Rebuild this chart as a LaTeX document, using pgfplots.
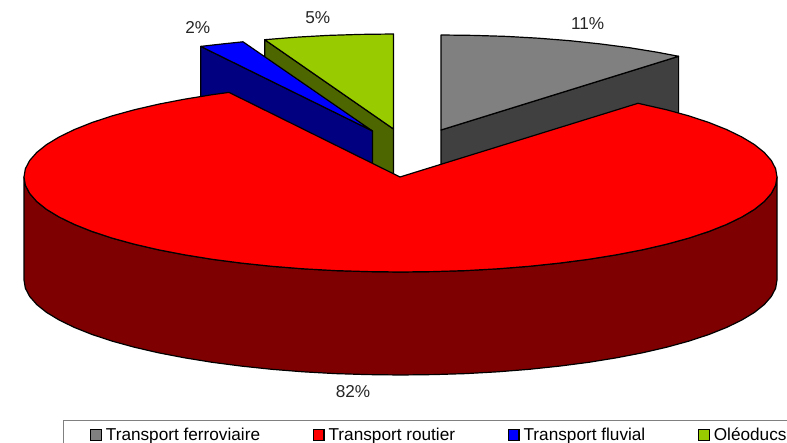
\documentclass[border=0pt]{standalone}
\usepackage{pgfplots}
\pgfplotsset{compat=1.18}
\usepackage{fontspec}
\setmainfont{Liberation Sans}
\definecolor{ferro}{HTML}{808080}
\definecolor{ferrodark}{HTML}{404040}
\definecolor{route}{HTML}{FF0000}
\definecolor{routedark}{HTML}{7F0000}
\definecolor{fluvial}{HTML}{0000FF}
\definecolor{fluvialdark}{HTML}{000080}
\definecolor{oleo}{HTML}{99CC00}
\definecolor{oleodark}{HTML}{4D6600}
\newcommand{\lab}{\fontsize{17.2}{19}\selectfont}
\pgfplotsset{
  slice/.style={draw=black,line width=1.2pt,line join=round,fill=#1,no markers,forget plot},
  swatch/.style={legend image code/.code={%
    \draw[draw=black,line width=1.2pt,fill=#1] (-2.6pt,-5pt) rectangle (7.9pt,5.5pt);
    \path (10pt,0pt);}},
}
\begin{document}
\begin{tikzpicture}
\useasboundingbox (0,0) rectangle (787pt,443pt);
\clip (0,0) rectangle (787pt,443pt);
\begin{axis}[
  at={(0,0)},anchor=south west,
  scale only axis,width=787pt,height=443pt,
  xmin=0,xmax=787,ymin=0,ymax=443,y dir=reverse,
  hide axis,clip=false,
  legend columns=4,
  legend cell align=left,
  legend style={
    at={(axis cs:63,420)},anchor=north west,
    draw=ferro,line width=1.2pt,fill=white,
    font=\lab,inner xsep=26.5pt,inner ysep=5.5pt,
    /tikz/every even column/.append style={column sep=50.7pt},
  },
]
% Rail freight: cut face, then top
\addplot[slice=ferrodark] coordinates {(441,130)(678.6,56.3)(678.6,159.3)(441,233)} -- cycle;
\addplot[slice=ferro] coordinates {(441,130)(441,35)(473.8,35.4)(506.4,36.4)(538.4,38.2)(569.8,40.7)(600.1,43.9)(629.3,47.7)(657,52.2)(678.6,56.3)} -- cycle;
% Pipelines
\addplot[slice=oleodark] coordinates {(264.7,39.7)(393.5,129)(393.5,232)(264.7,142.7)} -- cycle;
\addplot[slice=oleo] coordinates {(393.5,129)(393.5,34)(360.7,34.4)(328.1,35.4)(296.1,37.2)(264.7,39.7)} -- cycle;
% Inland waterways
\addplot[slice=fluvialdark] coordinates {(200.7,46.4)(372.5,131)(372.5,234)(200.7,149.4)} -- cycle;
\addplot[slice=fluvial] coordinates {(372.5,131)(243,41.8)(222,44)(200.7,46.4)} -- cycle;
% Road freight: outer wall
\addplot[slice=routedark] coordinates {
 (777,177)(775.6,185.3)(771.3,193.5)(764.2,201.6)(754.3,209.5)(741.7,217.1)(726.5,224.5)(708.9,231.5)(688.9,238.1)(666.7,244.2)
 (642.5,249.8)(616.5,254.8)(588.8,259.3)(559.6,263.1)(529.3,266.3)(497.9,268.8)(465.9,270.6)(433.3,271.6)(400.5,272)
 (367.7,271.6)(335.1,270.6)(303.1,268.8)(271.7,266.3)(241.4,263.1)(212.2,259.3)(184.5,254.8)(158.5,249.8)(134.3,244.2)
 (112.1,238.1)(92.1,231.5)(74.5,224.5)(59.3,217.1)(46.7,209.5)(36.8,201.6)(29.7,193.5)(25.4,185.3)(24,177)
 (24,280)(25.4,288.3)(29.7,296.5)(36.8,304.6)(46.7,312.5)(59.3,320.1)(74.5,327.5)(92.1,334.5)(112.1,341.1)
 (134.3,347.2)(158.5,352.8)(184.5,357.8)(212.2,362.3)(241.4,366.1)(271.7,369.3)(303.1,371.8)(335.1,373.6)(367.7,374.6)(400.5,375)
 (433.3,374.6)(465.9,373.6)(497.9,371.8)(529.3,369.3)(559.6,366.1)(588.8,362.3)(616.5,357.8)(642.5,352.8)(666.7,347.2)
 (688.9,341.1)(708.9,334.5)(726.5,327.5)(741.7,320.1)(754.3,312.5)(764.2,304.6)(771.3,296.5)(775.6,288.3)(777,280)
} -- cycle;
% Road freight: top
\addplot[slice=route] coordinates {
 (400,177)(638,103.3)(666.7,109.8)(688.9,115.9)(708.9,122.5)(726.5,129.5)(741.7,136.9)(754.3,144.5)(764.2,152.4)(771.3,160.5)(775.6,168.7)
 (777,177)(775.6,185.3)(771.3,193.5)(764.2,201.6)(754.3,209.5)(741.7,217.1)(726.5,224.5)(708.9,231.5)(688.9,238.1)(666.7,244.2)
 (642.5,249.8)(616.5,254.8)(588.8,259.3)(559.6,263.1)(529.3,266.3)(497.9,268.8)(465.9,270.6)(433.3,271.6)(400.5,272)
 (367.7,271.6)(335.1,270.6)(303.1,268.8)(271.7,266.3)(241.4,263.1)(212.2,259.3)(184.5,254.8)(158.5,249.8)(134.3,244.2)
 (112.1,238.1)(92.1,231.5)(74.5,224.5)(59.3,217.1)(46.7,209.5)(36.8,201.6)(29.7,193.5)(25.4,185.3)(24,177)
 (25.4,168.7)(29.7,160.5)(36.8,152.4)(46.7,144.5)(59.3,136.9)(74.5,129.5)(92.1,122.5)(112.1,115.9)(134.3,109.8)
 (158.5,104.2)(184.5,99.2)(212.2,94.7)(229,92.4)
} -- cycle;
% Share labels
\node[font=\lab,text=black!85] at (axis cs:587.7,23.5) {11\%};
\node[font=\lab,text=black!85] at (axis cs:317.7,18) {5\%};
\node[font=\lab,text=black!85] at (axis cs:197.7,27.5) {2\%};
\node[font=\lab,text=black!85] at (axis cs:353,391.5) {82\%};
% Legend
\addlegendimage{swatch=ferro}
\addlegendentry{Transport ferroviaire}
\addlegendimage{swatch=route}
\addlegendentry{Transport routier}
\addlegendimage{swatch=fluvial}
\addlegendentry{Transport fluvial}
\addlegendimage{swatch=oleo}
\addlegendentry{Oléoducs}
\end{axis}
\end{tikzpicture}
\end{document}
